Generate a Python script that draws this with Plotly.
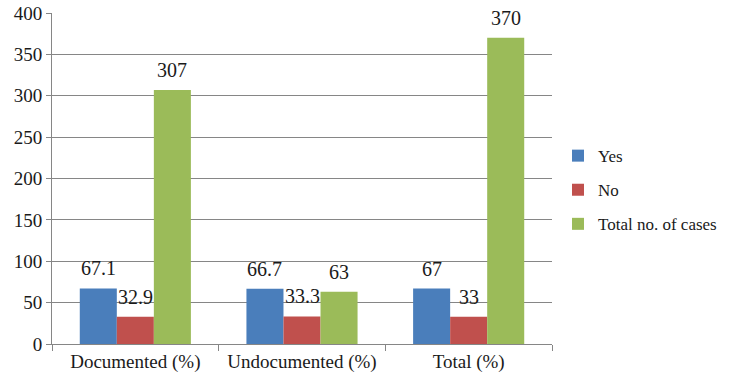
import plotly.graph_objects as go

categories = ["Documented (%)", "Undocumented (%)", "Total (%)"]
yes_vals = [67.1, 66.7, 67]
no_vals = [32.9, 33.3, 33]
total_cases = [307, 63, 370]
y_ticks = [0, 50, 100, 150, 200, 250, 300, 350, 400]

series = [
    ("Yes", yes_vals, "#4a7ebb"),
    ("No", no_vals, "#c0504d"),
    ("Total no. of cases", total_cases, "#9bbb59"),
]

serif = "Liberation Serif"
text_color = "#1a1a1a"
axis_gray = "#868686"

# plot area geometry (pixels) used to place value labels over their bars
plot_w = 737 - 52 - 185
bar_w = plot_w / len(categories) / 4.5

fig = go.Figure()
for k, (name, vals, color) in enumerate(series):
    fig.add_trace(go.Bar(
        x=categories, y=vals, name=name,
        marker=dict(color=color, line=dict(width=0)),
        legendgroup=name,
    ))
    for cat, v in zip(categories, vals):
        fig.add_annotation(
            x=cat, y=v, xref="x", yref="y",
            text=f"{v:g}", showarrow=False,
            xanchor="center", yanchor="bottom",
            xshift=(k - 1) * bar_w, yshift=7,
            font=dict(family=serif, size=20, color=text_color),
        )

fig.update_layout(
    width=737, height=381,
    font=dict(family=serif, size=19, color=text_color),
    margin=dict(l=52, r=185, t=13, b=37, autoexpand=False),
    paper_bgcolor="white", plot_bgcolor="white",
    barmode="group", bargap=1.5 / 4.5, bargroupgap=0,
    legend=dict(
        x=1.012, y=0.465, xanchor="left", yanchor="middle",
        font=dict(family=serif, size=17, color=text_color),
        traceorder="grouped", tracegroupgap=9,
    ),
    xaxis=dict(
        showline=True, linecolor=axis_gray,
        ticks="outside", tickson="boundaries", ticklen=6, tickcolor=axis_gray,
        automargin=False,
    ),
    yaxis=dict(
        range=[0, 400], tickvals=y_ticks,
        showline=True, linecolor=axis_gray,
        ticks="outside", ticklen=5, tickcolor=axis_gray,
        showgrid=True, gridcolor=axis_gray, zeroline=False, automargin=False,
    ),
)

fig.write_html("out.html")
